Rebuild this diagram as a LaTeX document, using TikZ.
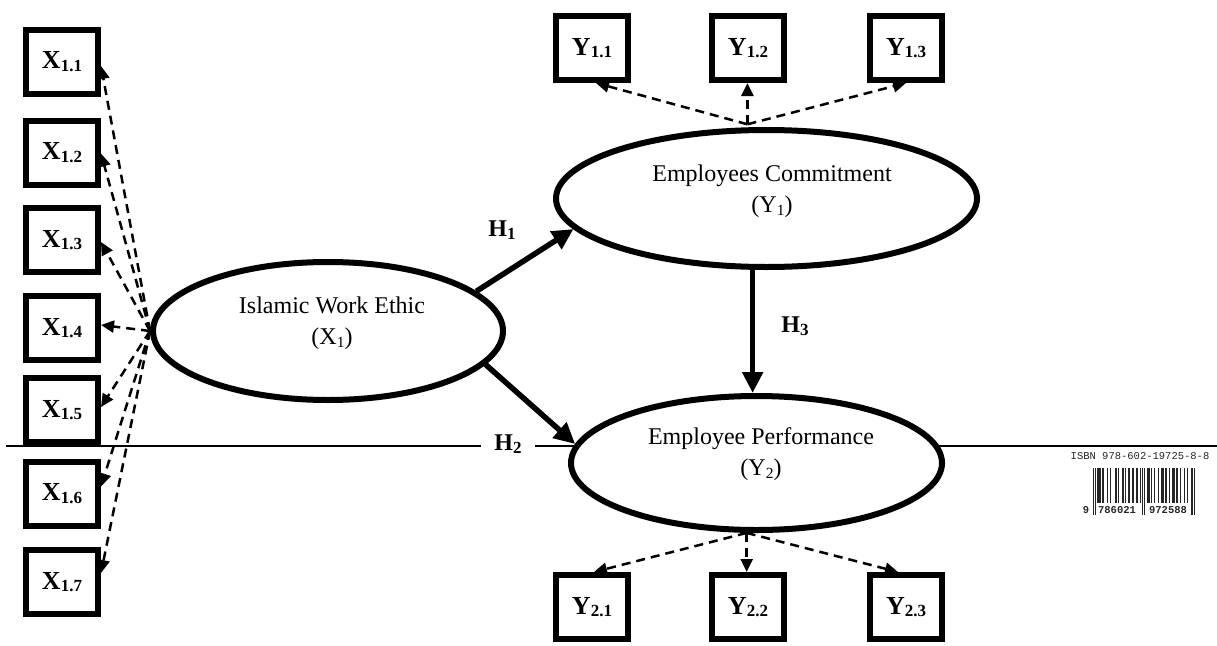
\documentclass[tikz,border=0pt]{standalone}
\usepackage{fontspec}
\setmainfont{Liberation Serif}
\newfontfamily\isbnfont{Liberation Mono}
\usetikzlibrary{arrows.meta,shapes.geometric,calc}
\newcommand\lsub[1]{\raisebox{-2.5pt}{\fontsize{17}{17}\selectfont #1}}
\newcommand\esub[1]{\raisebox{-3pt}{\fontsize{15.5}{15.5}\selectfont #1}}
\tikzset{
  ind/.style={draw, line width=6pt, minimum width=72pt, minimum height=64pt, inner sep=0pt, fill=white, font=\bfseries\fontsize{26}{26}\selectfont},
  lat/.style={draw, ellipse, line width=6pt, inner sep=0pt, fill=white},
  ltext/.style={align=center, font=\fontsize{24}{31}\selectfont, inner sep=0pt},
  hyp/.style={font=\bfseries\fontsize{24}{24}\selectfont, inner sep=0pt},
  harr/.style={line width=5.5pt, -{Triangle[length=21pt,width=20pt]}},
  darr/.style={line width=2.5pt, dash pattern=on 9pt off 6pt, -{Triangle[length=13pt,width=12pt]}},
  isbn/.style={font=\isbnfont\fontsize{10.5}{10.5}\selectfont, text=black!85, inner sep=0pt},
}
\begin{document}
\begin{tikzpicture}[x=1pt,y=-1pt]
\useasboundingbox (0,0) rectangle (1217,645);
% page rule
\draw[line width=2pt] (6,445.7) coordinate (la) -- (1217,445.7) coordinate (lb);
% latent variables
\node[lat, minimum width=350pt, minimum height=138pt] (x1) at (328,331) {};
\node[lat, minimum width=421pt, minimum height=137pt] (y1) at (766.5,198.5) {};
\node[lat, minimum width=371pt, minimum height=134pt] (y2) at (756.5,463) {};
\node[ltext] (x1t) at (332,323) {Islamic Work Ethic\\(X\esub{1})};
\node[ltext] (y1t) at (772,191) {Employees Commitment\\(Y\esub{1})};
\node[ltext] (y2t) at (761,454) {Employee Performance\\(Y\esub{2})};
% indicators
\node[ind] (x11) at (62,61.5) {X\lsub{1.1}};
\node[ind] (x12) at (62,152.5) {X\lsub{1.2}};
\node[ind] (x13) at (62,240) {X\lsub{1.3}};
\node[ind] (x14) at (62,328) {X\lsub{1.4}};
\node[ind] (x15) at (62,410) {X\lsub{1.5}};
\node[ind] (x16) at (62,493.5) {X\lsub{1.6}};
\node[ind] (x17) at (62,582) {X\lsub{1.7}};
\node[ind] (y11) at (592,48) {Y\lsub{1.1}};
\node[ind] (y12) at (748,48) {Y\lsub{1.2}};
\node[ind] (y13) at (906,48) {Y\lsub{1.3}};
\node[ind] (y21) at (592,607) {Y\lsub{2.1}};
\node[ind] (y22) at (748,607) {Y\lsub{2.2}};
\node[ind] (y23) at (906,607) {Y\lsub{2.3}};
% hypothesis labels
\node[hyp] (h1) at (502,230) {H\lsub{1}};
\node[hyp, fill=white, inner xsep=13pt, inner ysep=2pt] (h2) at (508,444) {H\lsub{2}};
\node[hyp] (h3) at (795,326) {H\lsub{3}};
% structural paths
\draw[harr] (x1.15) -- (y1.189);
\draw[harr] (x1.348) -- (y2.174);
\draw[harr] (y1.259) -- (y1.259 |- y2.north);
% loadings X1
\draw[darr] (x1.west) -- ($(x11.east)+(0,4.5)$);
\draw[darr] (x1.west) -- ($(x12.east)+(0,1)$);
\draw[darr] (x1.west) -- ($(x13.east)+(0,2)$);
\draw[darr] (x1.west) -- ($(x14.east)+(0,-3)$);
\draw[darr] (x1.west) -- ($(x15.east)+(0,-3)$);
\draw[darr] (x1.west) -- ($(x16.east)+(0,-7)$);
\draw[darr] (x1.west) -- ($(x17.east)+(0,-9)$);
% loadings Y1
\draw[darr] ($(y1.105)+(0,-3)$) -- ($(y11.south)+(4,0)$);
\draw[darr] ($(y1.105)+(0,-3)$) -- (y1.105 |- y12.south);
\draw[darr] ($(y1.105)+(0,-3)$) -- (y13.south);
% loadings Y2
\draw[darr] (y2.262) -- ($(y21.north)+(2,0)$);
\draw[darr] (y2.262) -- (y2.262 |- y22.north);
\draw[darr] (y2.262) -- ($(y23.north)+(-8,0)$);
% ISBN barcode
\node[isbn] (isbnt) at (1140,456) {ISBN 978-602-19725-8-8};
\foreach \b [count=\i from 0] in {1,0,1,
 0,1,1,1,0,1,1, 0,0,0,1,0,0,1, 0,0,0,0,1,0,1, 0,0,0,1,1,0,1, 0,0,1,1,0,1,1, 0,0,1,1,0,0,1,
 0,1,0,1,0,
 1,1,1,0,1,0,0, 1,0,0,0,1,0,0, 1,1,0,1,1,0,0, 1,0,0,1,1,1,0, 1,0,0,1,0,0,0, 1,0,0,1,0,0,0,
 1,0,1}{
  \ifnum\b=1 \fill[black!85] ({1093+\i*1.07},468) rectangle ++(1.07,35); \fi
}
\foreach \g in {0,2,46,48,92,94}{
  \fill[black!85] ({1093+\g*1.07},502) rectangle ++(1.07,13);
}
\node[isbn, font=\isbnfont\bfseries\fontsize{10.5}{10.5}\selectfont] (bc0) at (1086,510) {9};
\node[isbn, font=\isbnfont\bfseries\fontsize{10.5}{10.5}\selectfont] (bc1) at (1117,510) {786021};
\node[isbn, font=\isbnfont\bfseries\fontsize{10.5}{10.5}\selectfont] (bc2) at (1168,510) {972588};
\end{tikzpicture}
\end{document}
